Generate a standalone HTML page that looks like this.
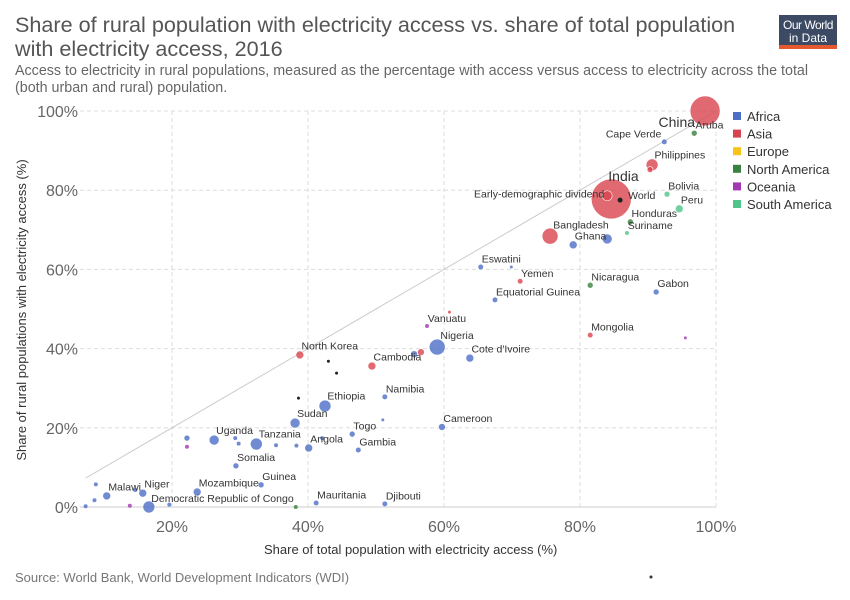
<!DOCTYPE html>
<html><head><meta charset="utf-8"><style>
body{margin:0;background:#fff;font-family:"Liberation Sans",sans-serif;}
#wrap{position:relative;width:850px;height:600px;overflow:hidden}
</style></head><body>
<div id="wrap">
<svg id="svg" width="850" height="600" xmlns="http://www.w3.org/2000/svg" font-family="Liberation Sans, sans-serif">
<text x="15" y="32" font-size="21.6" fill="#555">Share of rural population with electricity access vs. share of total population</text>
<text x="15" y="56" font-size="21.6" fill="#555">with electricity access, 2016</text>
<text x="15" y="75" font-size="14.3" fill="#666">Access to electricity in rural populations, measured as the percentage with access versus access to electricity across the total</text>
<text x="15" y="92" font-size="14.3" fill="#666">(both urban and rural) population.</text>
<g>
<rect x="779" y="15" width="58" height="34" fill="#3c4a64"/>
<rect x="779" y="45" width="58" height="4" fill="#e5592e"/>
<text x="808" y="29" font-size="12" fill="#fff" text-anchor="middle" letter-spacing="-0.5">Our World</text>
<text x="808" y="42" font-size="12" fill="#fff" text-anchor="middle">in Data</text>
</g>
<g id="grid"></g>
<g id="axes"></g>
<g id="marks"></g>
<g id="legend"></g>
<text x="264" y="554" font-size="13" fill="#333">Share of total population with electricity access (%)</text>
<text transform="translate(26,310) rotate(-90)" font-size="13" fill="#333" text-anchor="middle">Share of rural populations with electricity access (%)</text>
<text x="15" y="582" font-size="13" fill="#777">Source: World Bank, World Development Indicators (WDI)</text>
<circle cx="651" cy="577" r="1.5" fill="#333"/>
</svg>
</div>
<script>
const xTicks=[20,40,60,80,100];
const yTicks=[0,20,40,60,80,100];
const names=["China","India","Early-demographic dividend","World","Bangladesh","Ghana","","Honduras","Suriname","Bolivia","Peru","Philippines","","Cape Verde","Aruba","Eswatini","Yemen","Equatorial Guinea","Nicaragua","Gabon","Vanuatu","Nigeria","Cote d'Ivoire","Mongolia","Cambodia","North Korea","","","Namibia","Ethiopia","Sudan","Cameroon","Togo","Gambia","Angola","Tanzania","Uganda","Somalia","Guinea","Mozambique","Malawi","Niger","Democratic Republic of Congo","Mauritania","Djibouti","","","","","","","","","","","","","","","","","","","","",""];
const xVals=[98.4,84.6,84,85.9,75.6,79,84,87.4,86.9,92.8,94.6,90.6,90.3,92.4,96.8,65.4,71.2,67.5,81.5,91.2,57.5,59,63.8,81.5,49.4,38.8,55.6,56.6,51.3,42.5,38.1,59.7,46.5,47.4,40.1,32.4,26.2,29.4,33.1,23.7,10.4,15.7,16.6,41.2,51.3,38.2,22.2,22.2,29.3,29.8,38.3,8.8,8.6,7.3,13.8,19.6,14.6,35.3,42.1,95.5,69.9,60.8,51,44.2,38.6,43];
const yVals=[100,77.8,78.6,77.5,68.4,66.2,67.7,72,69.2,79,75.3,86.4,85.2,92.2,94.4,60.6,57,52.3,56,54.3,45.7,40.4,37.6,43.4,35.6,38.4,38.6,39.1,27.8,25.5,21.2,20.2,18.4,14.4,14.9,15.9,16.9,10.4,5.6,3.8,2.8,3.5,0,1,0.8,0,17.4,15.2,17.4,16,15.5,5.7,1.7,0.2,0.3,0.6,4.3,15.6,17.4,42.7,60.6,49.2,22,33.8,27.5,36.8];
const sizes=[15,20,5,2.5,8,4,5,3,2,3,4,6,3,2.5,3,2.5,2.5,2.5,3,3,2,8,4,2.5,4,4,3.5,3.5,2.5,6,5,3.5,3,2.5,4,6,5,3,3,4,4,4,6,2.5,2.5,2,3,2,2,2,2,2,2,2,2,2,2,2,2,1.5,1.5,1.5,1.5,1.5,1.5,1.5];
const regions=["Asia","Asia","Asia","World","Asia","Africa","Africa","North America","South America","South America","South America","Asia","Asia","Africa","North America","Africa","Asia","Africa","North America","Africa","Oceania","Africa","Africa","Asia","Asia","Asia","Africa","Asia","Africa","Africa","Africa","Africa","Africa","Africa","Africa","Africa","Africa","Africa","Africa","Africa","Africa","Africa","Africa","Africa","Africa","North America","Africa","Oceania","Africa","Africa","Africa","Africa","Africa","Africa","Oceania","Africa","Africa","Africa","Africa","Oceania","Africa","Asia","Africa","World","World","World"];
const legendItems=["Africa","Asia","Europe","North America","Oceania","South America"];
const colors={"Africa":"#4c6ec5","Asia":"#d9434f","Europe":"#f7c31a","North America":"#38813e","Oceania":"#a337b4","South America":"#4fc58a","World":"#222"};
const NS="http://www.w3.org/2000/svg";
function X(v){return 172+(v-20)*6.8;}
function Y(v){return 507-v*3.96;}
function mk(tag,attrs,parent){const e=document.createElementNS(NS,tag);for(const k in attrs)e.setAttribute(k,attrs[k]);parent.appendChild(e);return e;}
const grid=document.getElementById('grid'),axes=document.getElementById('axes'),marks=document.getElementById('marks'),legend=document.getElementById('legend');
yTicks.forEach(t=>{
 const l=mk('line',{x1:80,x2:716,y1:Y(t),y2:Y(t),stroke:t===0?'#ccc':'#ddd','stroke-dasharray':t===0?'':'4,3'},grid);
 
 
 const tx=mk('text',{x:78,y:Y(t)+6,'font-size':16,fill:'#666','text-anchor':'end'},axes);
 tx.textContent=t+'%';
 
 
});
xTicks.forEach(t=>{
 const l=mk('line',{x1:X(t),x2:X(t),y1:Y(100),y2:Y(0),stroke:'#ddd','stroke-dasharray':'4,3'},grid);
 
 
 const tx=mk('text',{x:X(t),y:532,'font-size':16,fill:'#666','text-anchor':'middle'},axes);
 tx.textContent=t+'%';
 
 
});
const diag=mk('line',{x1:X(7.3),y1:Y(7.3),x2:X(100),y2:Y(100),stroke:'#ccc','stroke-width':1},grid);


const order=xVals.map((_,i)=>i).sort((a,b)=>sizes[b]-sizes[a]);
order.forEach(i=>{
 const c=mk('circle',{cx:X(xVals[i]),cy:Y(yVals[i]),r:sizes[i],fill:colors[regions[i]],'fill-opacity':regions[i]==='World'?1:0.8,stroke:sizes[i]>2.5&&regions[i]!=='World'?'#fff':'none','stroke-width':0.6},marks);
 
 
});
xVals.forEach((v,i)=>{
 if(!names[i])return;
 const big=names[i]==='China'||names[i]==='India';
 const left=names[i]==='Early-demographic dividend'||names[i]==='China'||names[i]==='Cape Verde';
 let x=X(v)+(left?-3:sizes[i]*0.4);
 let y=Y(yVals[i])-sizes[i]*0.6-3;
 if(names[i]==='India'){x=X(v)-3;y=Y(yVals[i])-18;}
 if(names[i]==='China'){x=X(v)-10;y=Y(yVals[i])+16;}
 if(names[i]==='Early-demographic dividend'){y=Y(yVals[i])+2;}
 if(names[i]==='Democratic Republic of Congo'){y=Y(yVals[i])-5;}
 if(names[i]==='World'){x=X(v)+8;y=Y(yVals[i])-1;}
 const t=mk('text',{x:x,y:y,'font-size':big?14:10.5,fill:'#333','text-anchor':left?'end':'start'},marks);
 t.textContent=names[i];
 
 
});
legendItems.forEach((n,i)=>{
 const r=mk('rect',{x:733,y:112+i*17.6,width:8,height:8,fill:colors[n]},legend);
 
 
 const t=mk('text',{x:747,y:121+i*17.6,'font-size':13,fill:'#333'},legend);
 t.textContent=n;
 
 
});
</script>
</body></html>
